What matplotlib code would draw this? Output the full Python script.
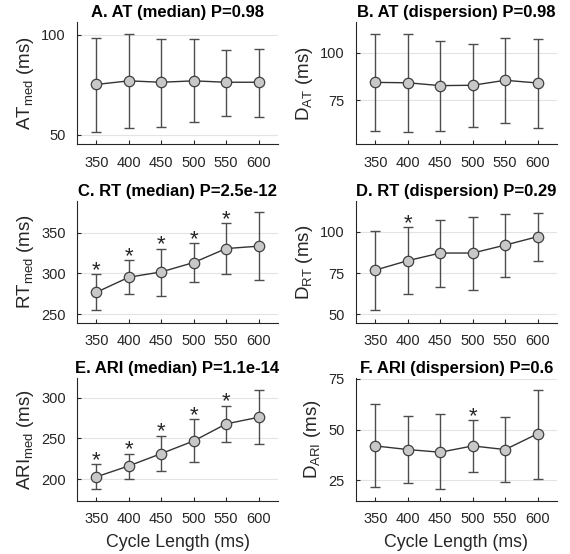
import matplotlib
matplotlib.use("Agg")
import matplotlib.pyplot as plt

plt.rcParams['font.family'] = ['Liberation Sans', 'DejaVu Sans']
plt.rcParams['mathtext.fontset'] = 'custom'
plt.rcParams['mathtext.rm'] = 'Liberation Sans'

cycle_lengths = [350, 400, 450, 500, 550, 600]

at_med = [75.2, 77.0, 76.3, 77.0, 76.3, 76.3]
at_med_hi = [98.6, 100.5, 98.1, 97.8, 92.3, 93.1]
at_med_lo = [51.3, 53.5, 53.8, 56.3, 59.6, 59.1]
at_med_star = []

at_disp = [84.4, 84.2, 82.7, 82.9, 85.5, 84.1]
at_disp_hi = [109.8, 109.8, 106.3, 104.7, 107.8, 107.3]
at_disp_lo = [59.1, 58.6, 59.1, 61.2, 63.3, 60.3]
at_disp_star = []

rt_med = [276.9, 295.3, 301.8, 313.3, 330.4, 333.3]
rt_med_hi = [299.0, 316.1, 330.4, 336.9, 361.4, 374.9]
rt_med_lo = [254.9, 274.5, 272.9, 289.2, 299.0, 291.6]
rt_med_star = [350, 400, 450, 500, 550]

rt_disp = [76.8, 82.5, 87.1, 87.1, 91.9, 97.0]
rt_disp_hi = [100.6, 102.8, 107.3, 109.1, 110.5, 111.5]
rt_disp_lo = [52.4, 62.1, 66.7, 64.9, 72.8, 82.3]
rt_disp_star = [400]

ari_med = [202.9, 216.3, 231.4, 246.9, 267.8, 275.9]
ari_med_hi = [218.4, 231.4, 253.1, 273.5, 289.8, 309.0]
ari_med_lo = [187.8, 200.0, 210.2, 220.8, 245.3, 242.9]
ari_med_star = [350, 400, 450, 500, 550]

ari_disp = [41.9, 40.1, 38.8, 41.9, 40.1, 47.9]
ari_disp_hi = [62.5, 56.6, 57.6, 54.6, 56.1, 69.4]
ari_disp_lo = [21.5, 23.7, 20.6, 28.9, 24.3, 25.8]
ari_disp_star = [500]

panels = [
    ("A. AT (median) P=0.98", r"AT$_{\mathregular{med}}$ (ms)", at_med, at_med_hi, at_med_lo, at_med_star, (45.1, 106.5), [50, 100]),
    ("B. AT (dispersion) P=0.98", r"D$_{\mathregular{AT}}$ (ms)", at_disp, at_disp_hi, at_disp_lo, at_disp_star, (51.8, 116.1), [75, 100]),
    ("C. RT (median) P=2.5e-12", r"RT$_{\mathregular{med}}$ (ms)", rt_med, rt_med_hi, rt_med_lo, rt_med_star, (239, 389), [250, 300, 350]),
    ("D. RT (dispersion) P=0.29", r"D$_{\mathregular{RT}}$ (ms)", rt_disp, rt_disp_hi, rt_disp_lo, rt_disp_star, (44.6, 118.8), [50, 75, 100]),
    ("E. ARI (median) P=1.1e-14", r"ARI$_{\mathregular{med}}$ (ms)", ari_med, ari_med_hi, ari_med_lo, ari_med_star, (173.5, 323.7), [200, 250, 300]),
    ("F. ARI (dispersion) P=0.6", r"D$_{\mathregular{ARI}}$ (ms)", ari_disp, ari_disp_hi, ari_disp_lo, ari_disp_star, (14.8, 75.3), [25, 50, 75]),
]

W, H = 570, 554
fig = plt.figure(figsize=(W / 100, H / 100), dpi=100)

lefts = [77, 356]
tops = [22, 200.7, 378.3]
aw, ah = 201, 122.5

dark = '#262626'
for i, (title, ylab, med, hi, lo, stars, ylim, yticks) in enumerate(panels):
    r, c = divmod(i, 2)
    ax = fig.add_axes([lefts[c] / W, 1 - (tops[r] + ah) / H, aw / W, ah / H])
    yerr = [[m - l for m, l in zip(med, lo)], [h - m for m, h in zip(med, hi)]]
    ax.errorbar(cycle_lengths, med, yerr=yerr, fmt='none', ecolor='#4d4d4d',
                elinewidth=1.0, capsize=3.6, capthick=1.0, zorder=2)
    ax.plot(cycle_lengths, med, '-', color='#333333', lw=1.0, zorder=3)
    ax.plot(cycle_lengths, med, 'o', ms=7.5, mfc='#c8c8c8', mec='#404040',
            mew=0.9, zorder=4)
    for s in stars:
        k = cycle_lengths.index(s)
        ax.annotate('*', xy=(s, hi[k]), xytext=(0, -1.2), textcoords='offset points',
                    ha='center', va='baseline', fontsize=16, color=dark)
    ax.set_xlim(320, 630)
    ax.set_ylim(*ylim)
    ax.set_xticks(cycle_lengths)
    ax.set_yticks(yticks)
    ax.yaxis.grid(True, color='#e3e3e3', lw=0.8)
    ax.set_axisbelow(True)
    for sp in ['top', 'right']:
        ax.spines[sp].set_visible(False)
    for sp in ['left', 'bottom']:
        ax.spines[sp].set_color(dark)
        ax.spines[sp].set_linewidth(0.8)
    ax.tick_params(direction='in', length=3, width=0.8, color=dark,
                   labelcolor=dark, labelsize=10.5, pad=8)
    ax.set_title(title, fontsize=12, fontweight='bold', pad=3.5, color='black')
    ax.set_ylabel(ylab, fontsize=13.5, color=dark, labelpad=4)
    if r == 2:
        ax.set_xlabel('Cycle Length (ms)', fontsize=12.8, color=dark, labelpad=6)

fig.savefig('out.png', dpi=100)
